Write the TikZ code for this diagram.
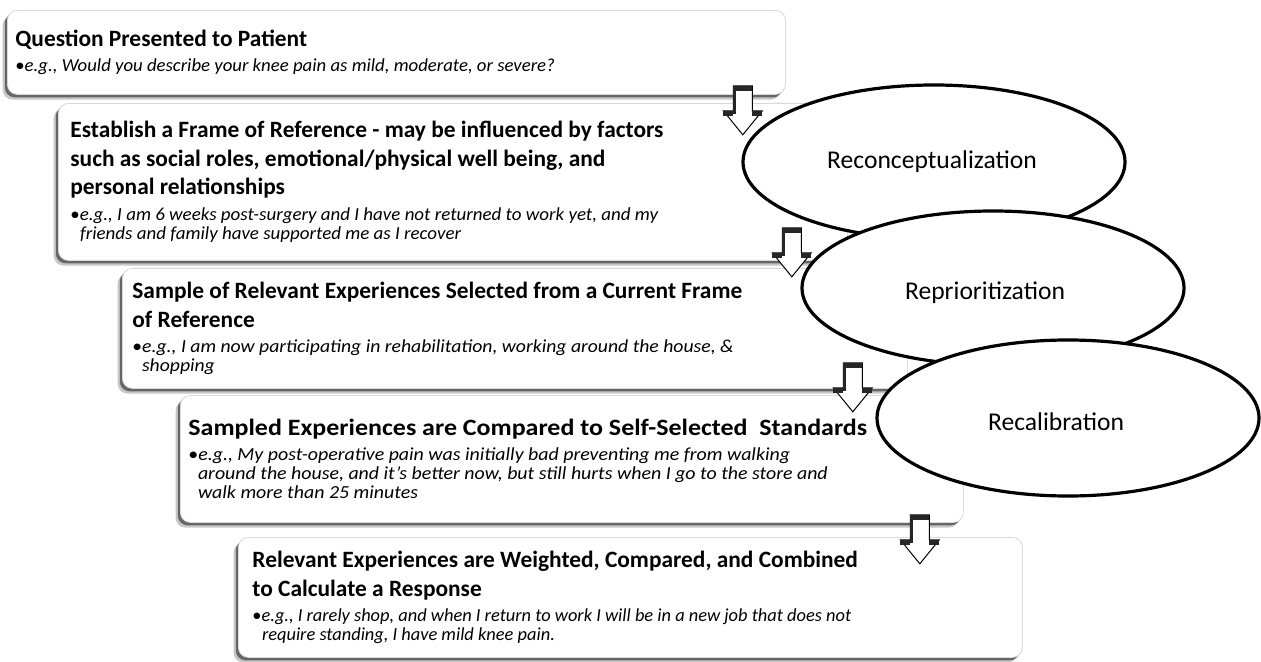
\documentclass[tikz,border=0pt]{standalone}
\usepackage{fontspec}
\setmainfont{Carlito}
\usetikzlibrary{shapes.geometric,shadows,calc}

\newcommand{\steptitle}[1][1]{\fontsize{11.7}{14.25}\selectfont\bfseries\addfontfeature{FakeStretch=#1}}
\newcommand{\stepbody}[1][1]{\fontsize{9.2}{9.6}\selectfont\itshape\addfontfeature{FakeStretch=#1}}
\newcommand{\ind}{\hspace*{4.8pt}}
\newcommand{\eg}{{\upshape\textbullet}e.g., }

\tikzset{
  stepbox/.style={draw=black!15, line width=0.4pt, fill=white, rounded corners=5pt,
    anchor=north west, align=flush left, inner xsep=5pt, inner ysep=0pt,
    drop shadow={shadow xshift=-2.4pt, shadow yshift=-2.6pt, opacity=.22, fill=black},
    drop shadow={shadow xshift=-1.3pt, shadow yshift=-1.5pt, opacity=.65, fill=black!80}},
  stage/.style={ellipse, draw, line width=1.6pt, fill=white, inner sep=0pt,
    minimum width=191pt, minimum height=77pt},
  stagelabel/.style={font=\fontsize{12.8}{15}\selectfont, inner sep=0pt},
  downarrow/.pic={
    \draw[fill=white, line width=0.5pt] (-9.5,0) -- (9.5,0) -- (9.5,25) -- (19.5,25)
      -- (0,49) -- (-19.5,25) -- (-9.5,25) -- cycle;
    \fill[black!85] (-9.5,0) rectangle (9.5,5);
    \fill[black!85] (-9.5,0) rectangle (-6.5,28);
    \fill[black!85] (-19.5,25) rectangle (-9.5,30);
    \fill[black!85] (9.5,25) rectangle (19.5,30);
  }
}

\begin{document}
\begin{tikzpicture}[x=0.5pt, y=-0.5pt]
  \useasboundingbox (0,0) rectangle (1261,662);

  %steps of the response
  \node[stepbox, text width=381pt, minimum height=42pt, inner xsep=4pt] (q1) at (7,10)
    {{\steptitle Question Presented to Patient\par}\vspace{3pt}
     {\stepbody[1.02] \eg Would you describe your knee pain as mild, moderate, or severe?\par}};
  \node[stepbox, text width=382.5pt, minimum height=78.5pt, inner xsep=6pt] (q2) at (58,103)
    {{\steptitle Establish a Frame of Reference - may be influenced by factors\\
      such as social roles, emotional/physical well being, and\\
      personal relationships\par}\vspace{3pt}
     {\stepbody[1.03] \eg I am 6 weeks post-surgery and I have not returned to work yet, and my\\
      \ind friends and family have supported me as I recover\par}};
  \node[stepbox, text width=382.5pt, minimum height=60pt] (q3) at (122,268)
    {{\steptitle Sample of Relevant Experiences Selected from a Current Frame\\
      of Reference\par}\vspace{3pt}
     {\stepbody[1.07] \eg I am now participating in rehabilitation, working around the house, \&\\
      \ind shopping\par}};
  \node[stepbox, text width=383.5pt, minimum height=63.5pt, inner xsep=4pt] (q4) at (180,395)
    {{\steptitle[1.11] Sampled Experiences are Compared to Self-Selected\ \ Standards\par}\vspace{3pt}
     {\stepbody[1.08] \eg My post-operative pain was initially bad preventing me from walking\\
      \ind around the house, and it’s better now, but still hurts when I go to the store and\\
      \ind walk more than 25 minutes\par}};
  \node[stepbox, text width=378pt, minimum height=60pt, inner xsep=7pt] (q5) at (238,537)
    {{\steptitle Relevant Experiences are Weighted, Compared, and Combined\\
      to Calculate a Response\par}\vspace{3pt}
     {\stepbody[1.0] \eg I rarely shop, and when I return to work I will be in a new job that does not\\
      \ind require standing, I have mild knee pain.\par}};

  %response shift
  \node[stage] (reconc) at (934,162) {};
  \node[stagelabel] (reconc-t) at ($(reconc)+(-2,0)$) {Reconceptualization};
  \node[stage] (reprio) at (993,288) {};
  \node[stagelabel] (reprio-t) at ($(reprio)+(-8,5)$) {Reprioritization};
  \node[stage, minimum height=78pt] (recal) at (1068,418) {};
  \node[stagelabel] (recal-t) at ($(recal)+(-12,4)$) {Recalibration};

  %block arrows
  \pic at ($(q1.south east)+(-43,-9)$) {downarrow};
  \pic at ($(q2.south east)+(-56,-33)$) {downarrow};
  \pic at ($(q3.south east)+(-55,-26)$) {downarrow};
  \pic at ($(q4.south east)+(-44,-8)$) {downarrow};
\end{tikzpicture}
\end{document}
